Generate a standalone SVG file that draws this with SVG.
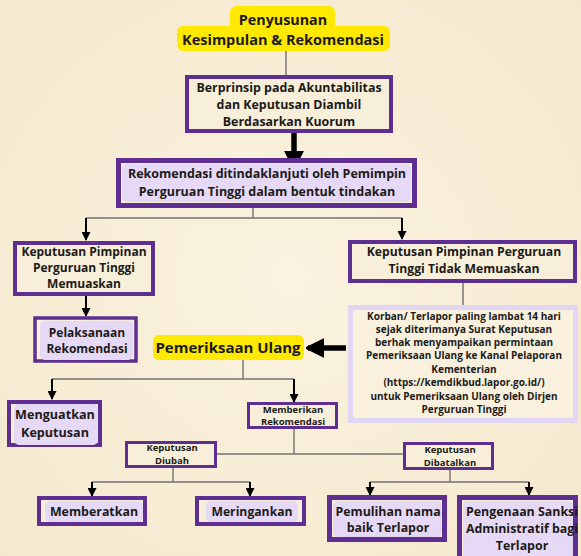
<svg xmlns="http://www.w3.org/2000/svg" width="581" height="556" viewBox="0 0 581 556">
<defs>
<style>
text{font-family:"Open Sans","Noto Sans","Liberation Sans",sans-serif;font-weight:700;fill:#1c1a17;text-anchor:middle}
.box{fill:#f8efda;stroke:#5e2e92}
.lav{fill:#e6d9f6}
.yel{fill:#ffe900}
.thin{stroke:#727070;stroke-width:1.4;fill:none}
.arr{stroke:#000;stroke-width:2;fill:none;marker-end:url(#ah)}
.big{stroke:#000;stroke-width:5.5;fill:none;marker-end:url(#bh)}
</style>
<marker id="ah" viewBox="0 0 10 10" refX="9" refY="5" markerUnits="userSpaceOnUse" markerWidth="10" markerHeight="9" orient="auto">
<path d="M0,0 L10,5 L0,10 z" fill="#000"/>
</marker>
<marker id="bh" viewBox="0 0 10 10" refX="9" refY="5" markerUnits="userSpaceOnUse" markerWidth="18" markerHeight="22" orient="auto">
<path d="M0,0 L10,5 L0,10 z" fill="#000" stroke="#000" stroke-linejoin="round"/>
</marker>
<radialGradient id="bg" cx="50%" cy="50%" r="75%">
<stop offset="0" stop-color="#fbf3e0"/>
<stop offset="1" stop-color="#f4e8cc"/>
</radialGradient>
</defs>
<rect width="581" height="556" fill="url(#bg)"/>

<g id="connectors">
<line class="thin" x1="286" y1="51" x2="286" y2="75"/>
<line class="big" x1="294" y1="124" x2="294" y2="167"/>
<line class="thin" x1="253" y1="208" x2="253" y2="218"/>
<line class="thin" x1="86" y1="218" x2="402" y2="218"/>
<line class="arr" x1="86" y1="218" x2="86" y2="240"/>
<line class="arr" x1="402" y1="218" x2="402" y2="239"/>
<line class="arr" x1="86" y1="296" x2="86" y2="316"/>
<line class="thin" x1="463" y1="283" x2="463" y2="305"/>
<line class="big" x1="346" y1="348" x2="308" y2="348"/>
<line class="thin" x1="243" y1="359" x2="243" y2="379"/>
<line class="thin" x1="52" y1="379" x2="294" y2="379"/>
<line class="arr" x1="52" y1="379" x2="52" y2="399"/>
<line class="arr" x1="294" y1="379" x2="294" y2="402"/>
<line class="thin" x1="294" y1="429" x2="294" y2="454"/>
<line class="thin" x1="217" y1="454" x2="403" y2="454"/>
<line class="thin" x1="173" y1="467" x2="173" y2="482"/>
<line class="thin" x1="92" y1="482" x2="250" y2="482"/>
<line class="arr" x1="92" y1="482" x2="92" y2="496"/>
<line class="arr" x1="250" y1="482" x2="250" y2="496"/>
<line class="thin" x1="450" y1="469" x2="450" y2="482"/>
<line class="thin" x1="370" y1="482" x2="529" y2="482"/>
<line class="arr" x1="370" y1="482" x2="370" y2="495"/>
<line class="arr" x1="529" y1="482" x2="529" y2="495"/>
</g>

<g id="title">
<rect class="yel" x="230" y="6" width="105" height="30" rx="6"/>
<rect class="yel" x="177" y="26" width="213" height="25" rx="6"/>
<text x="283" y="25" font-size="14.3">Penyusunan</text>
<text x="283" y="45" font-size="14.5">Kesimpulan &amp; Rekomendasi</text>
</g>

<g id="akuntabilitas">
<rect class="box" x="187" y="77" width="204" height="54" stroke-width="4"/>
<text x="289" y="92" font-size="12.4">Berprinsip pada Akuntabilitas</text>
<text x="289" y="109" font-size="12.4">dan Keputusan Diambil</text>
<text x="289" y="126" font-size="12.4">Berdasarkan Kuorum</text>
</g>

<g id="ditindaklanjuti">
<rect class="box" x="118.5" y="160.5" width="296" height="45" stroke-width="5"/>
<rect class="lav" x="122" y="164" width="289" height="38" rx="5"/>
<text x="267" y="178" font-size="12.5">Rekomendasi ditindaklanjuti oleh Pemimpin</text>
<text x="267" y="196" font-size="12.5">Perguruan Tinggi dalam bentuk tindakan</text>
</g>

<g id="memuaskan">
<rect class="box" x="15" y="243" width="138" height="51" stroke-width="4"/>
<text x="84" y="256" font-size="12">Keputusan Pimpinan</text>
<text x="84" y="272" font-size="12">Perguruan Tinggi</text>
<text x="84" y="288" font-size="12">Memuaskan</text>
</g>

<g id="pelaksanaan">
<rect class="box" x="35" y="318" width="101" height="43" stroke-width="3.5"/>
<rect class="lav" x="40" y="321" width="93" height="39" rx="5"/>
<text x="87" y="337" font-size="12">Pelaksanaan</text>
<text x="87" y="353" font-size="12">Rekomendasi</text>
</g>

<g id="tidak-memuaskan">
<rect class="box" x="350" y="242" width="225" height="39" stroke-width="4"/>
<text x="464" y="256" font-size="12.2">Keputusan Pimpinan Perguruan</text>
<text x="464" y="273" font-size="12.2">Tinggi Tidak Memuaskan</text>
</g>

<g id="korban">
<rect x="350.5" y="307.5" width="225" height="113" fill="#f9f1de" stroke="#e2d6f5" stroke-width="5"/>
<text x="464" y="320" font-size="10">Korban/ Terlapor paling lambat 14 hari</text>
<text x="464" y="333" font-size="10">sejak diterimanya Surat Keputusan</text>
<text x="464" y="346" font-size="10">berhak menyampaikan permintaan</text>
<text x="464" y="359" font-size="10">Pemeriksaan Ulang ke Kanal Pelaporan</text>
<text x="464" y="373" font-size="10">Kementerian</text>
<text x="464" y="386" font-size="10">(https://kemdikbud.lapor.go.id/)</text>
<text x="464" y="400" font-size="10">untuk Pemeriksaan Ulang oleh Dirjen</text>
<text x="464" y="413" font-size="10">Perguruan Tinggi</text>
</g>

<g id="pemeriksaan-ulang">
<rect class="yel" x="153" y="335" width="151" height="25" rx="6"/>
<text x="228" y="353" font-size="15">Pemeriksaan Ulang</text>
</g>

<g id="menguatkan">
<rect class="box" x="9" y="402" width="91" height="43" stroke-width="4"/>
<rect class="lav" x="14" y="404" width="84" height="41" rx="5"/>
<text x="55" y="419" font-size="12.6">Menguatkan</text>
<text x="55" y="437" font-size="12.6">Keputusan</text>
</g>

<g id="memberikan">
<rect class="box" x="248.5" y="403.5" width="88" height="24" stroke-width="3"/>
<text x="293" y="413" font-size="9.5">Memberikan</text>
<text x="293" y="425" font-size="9.5">Rekomendasi</text>
</g>

<g id="diubah">
<rect class="box" x="126.5" y="442.5" width="89" height="24" stroke-width="3"/>
<text x="172" y="451" font-size="9.5">Keputusan</text>
<text x="172" y="464" font-size="9.5">Diubah</text>
</g>

<g id="dibatalkan">
<rect class="box" x="404.5" y="443.5" width="88" height="25" stroke-width="3"/>
<text x="450" y="453" font-size="9.5">Keputusan</text>
<text x="450" y="466" font-size="9.5">Dibatalkan</text>
</g>

<g id="memberatkan">
<rect class="box" x="39" y="498" width="106" height="26" stroke-width="4"/>
<rect class="lav" x="45" y="501" width="98" height="21" rx="5"/>
<text x="94" y="516" font-size="12.4">Memberatkan</text>
</g>

<g id="meringankan">
<rect class="box" x="197" y="498" width="107" height="26" stroke-width="4"/>
<rect class="lav" x="206" y="501" width="92" height="21" rx="5"/>
<text x="252" y="516" font-size="12.2">Meringankan</text>
</g>

<g id="pemulihan">
<rect class="box" x="329.5" y="497.5" width="115" height="42" stroke-width="5"/>
<rect class="lav" x="333" y="501" width="109" height="36" rx="5"/>
<text x="388" y="516" font-size="12.4">Pemulihan nama</text>
<text x="388" y="532" font-size="12.4">baik Terlapor</text>
</g>

<g id="pengenaan">
<rect class="box" x="459.5" y="497.5" width="116" height="70" stroke-width="5"/>
<rect class="lav" x="463" y="501" width="110" height="60" rx="5"/>
<text x="522" y="516" font-size="12.4">Pengenaan Sanksi</text>
<text x="522" y="533" font-size="12.4">Administratif bagi</text>
<text x="522" y="550" font-size="12.4">Terlapor</text>
</g>
</svg>
